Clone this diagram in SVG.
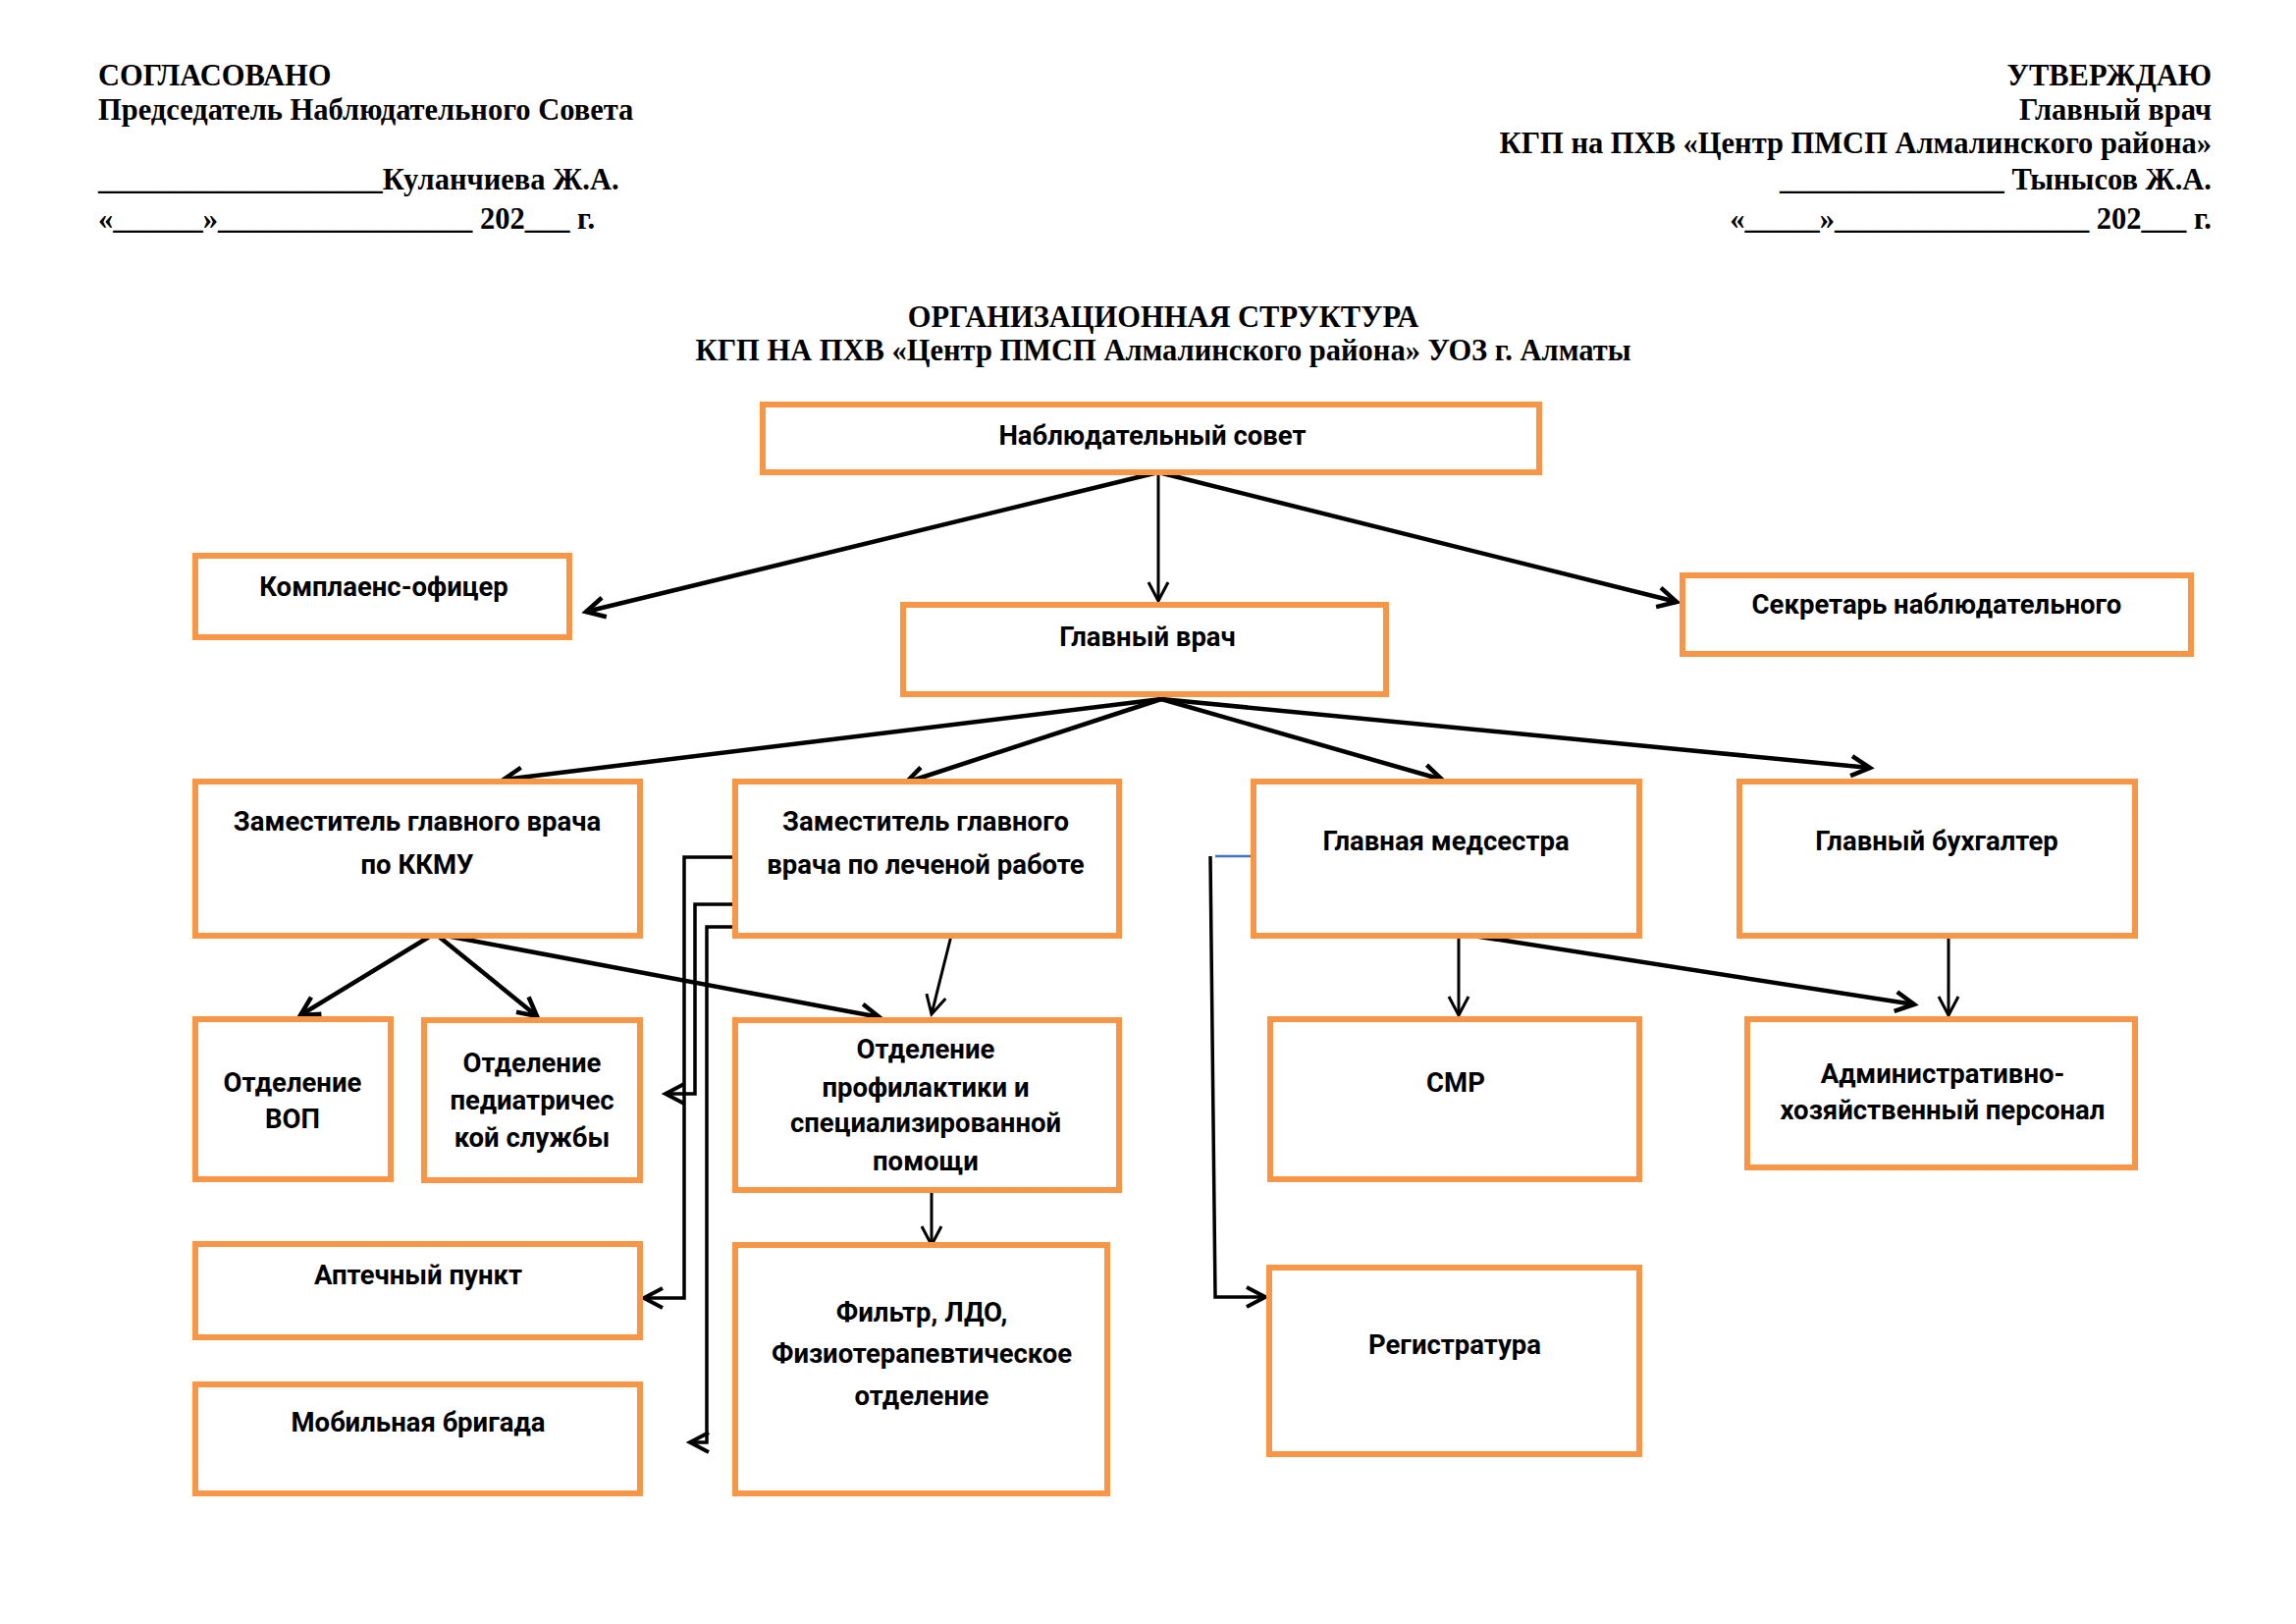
<svg xmlns="http://www.w3.org/2000/svg" width="2339" height="1654" viewBox="0 0 2339 1654">
<style>
.hd{font-family:"Liberation Serif","Times New Roman",serif;font-weight:bold;font-size:30.5px;fill:#000}
.box{fill:#fff;stroke:#F79646;stroke-width:6}
.t{font-family:Roboto,"Noto Sans","DejaVu Sans",sans-serif;font-weight:bold;font-size:27.5px;fill:#000;text-anchor:middle}
.thick{fill:none;stroke:#000;stroke-width:4.5;marker-end:url(#ahK)}
.thin{fill:none;stroke:#000;stroke-width:3;marker-end:url(#ahT)}
.mid{fill:none;stroke:#000;stroke-width:3.5;marker-end:url(#ahM)}
</style>
<defs>
<marker id="ahK" markerUnits="userSpaceOnUse" markerWidth="30" markerHeight="30" refX="22" refY="12" orient="auto" overflow="visible"><path d="M3,2 L22,12 L3,22" fill="none" stroke="#000" stroke-width="4.5"/></marker>
<marker id="ahT" markerUnits="userSpaceOnUse" markerWidth="30" markerHeight="30" refX="22" refY="12" orient="auto" overflow="visible"><path d="M3,2 L22,12 L3,22" fill="none" stroke="#000" stroke-width="3"/></marker>
<marker id="ahM" markerUnits="userSpaceOnUse" markerWidth="30" markerHeight="30" refX="22" refY="12" orient="auto" overflow="visible"><path d="M3,2 L22,12 L3,22" fill="none" stroke="#000" stroke-width="4"/></marker>
</defs>
<rect x="0" y="0" width="2339" height="1654" fill="#fff"/>
<g id="header-left">
<text class="hd" x="100" y="87">СОГЛАСОВАНО</text>
<text class="hd" x="100" y="122">Председатель Наблюдательного Совета</text>
<text class="hd" x="100" y="193">___________________Куланчиева Ж.А.</text>
<text class="hd" x="100" y="233">«______»_________________ 202___ г.</text>
</g>
<g id="header-right">
<text class="hd" x="2253" y="87" text-anchor="end">УТВЕРЖДАЮ</text>
<text class="hd" x="2253" y="122" text-anchor="end">Главный врач</text>
<text class="hd" x="2253" y="156" text-anchor="end">КГП на ПХВ «Центр ПМСП Алмалинского района»</text>
<text class="hd" x="2253" y="193" text-anchor="end">_______________ Тынысов Ж.А.</text>
<text class="hd" x="2253" y="233" text-anchor="end">«_____»_________________ 202___ г.</text>
</g>
<g id="title">
<text class="hd" x="1185" y="333" text-anchor="middle">ОРГАНИЗАЦИОННАЯ СТРУКТУРА</text>
<text class="hd" x="1185" y="367" text-anchor="middle">КГП НА ПХВ «Центр ПМСП Алмалинского района» УОЗ г. Алматы</text>
</g>
<g id="connectors">
<path class="thick" d="M1180,481 L597,623"/>
<path class="thick" d="M1180,481 L1708,613"/>
<path class="thin" d="M1180,481 L1180,612"/>
<path class="thick" d="M1183,712 L513,794"/>
<path class="thick" d="M1183,712 L923,797"/>
<path class="thick" d="M1183,712 L1469,794"/>
<path class="thick" d="M1183,712 L1905,782"/>
<path class="thick" d="M439,953 L306,1034"/>
<path class="thick" d="M446,953 L547,1035"/>
<path class="thick" d="M454,953 L896,1036"/>
<path class="thin" d="M969,953 L949,1033"/>
<path class="thin" d="M949,1203 L949,1268"/>
<path class="thin" d="M1486,953 L1486,1034"/>
<path class="thick" d="M1501,953 L1950,1023"/>
<path class="thin" d="M1985,953 L1985,1034"/>
<path class="mid" d="M746,873 H697 V1322 H656"/>
<path class="mid" d="M746,921 H708 V1114 H678"/>
<path class="mid" d="M746,944 H720 V1469 H703"/>
<path d="M1238,872 H1275" fill="none" stroke="#4472C4" stroke-width="2.5"/>
<path class="mid" d="M1233,872 L1238,1321 H1289"/>
</g>
<g id="n-council"><rect class="box" x="777" y="412" width="791" height="69"/><text class="t" x="1174" y="453">Наблюдательный совет</text></g>
<g id="n-compliance"><rect class="box" x="199" y="566" width="381" height="83"/><text class="t" x="391" y="607">Комплаенс-офицер</text></g>
<g id="n-chief"><rect class="box" x="920" y="616" width="492" height="91"/><text class="t" x="1169" y="658">Главный врач</text></g>
<g id="n-secretary"><rect class="box" x="1714" y="586" width="518" height="80"/><text class="t" x="1973" y="625">Секретарь наблюдательного</text></g>
<g id="n-kkmu"><rect class="box" x="199" y="796" width="453" height="157"/><text class="t" x="425" y="846">Заместитель главного врача</text><text class="t" x="425" y="890">по ККМУ</text></g>
<g id="n-med"><rect class="box" x="749" y="796" width="391" height="157"/><text class="t" x="943" y="846">Заместитель главного</text><text class="t" x="943" y="890">врача по леченой работе</text></g>
<g id="n-nurse"><rect class="box" x="1277" y="796" width="393" height="157"/><text class="t" x="1473" y="866">Главная медсестра</text></g>
<g id="n-accountant"><rect class="box" x="1772" y="796" width="403" height="157"/><text class="t" x="1973" y="866">Главный бухгалтер</text></g>
<g id="n-vop"><rect class="box" x="199" y="1038" width="199" height="163"/><text class="t" x="298" y="1112">Отделение</text><text class="t" x="298" y="1149">ВОП</text></g>
<g id="n-ped"><rect class="box" x="432" y="1039" width="220" height="163"/><text class="t" x="542" y="1092">Отделение</text><text class="t" x="542" y="1130">педиатричес</text><text class="t" x="542" y="1168">кой службы</text></g>
<g id="n-prof"><rect class="box" x="749" y="1039" width="391" height="173"/><text class="t" x="943" y="1078">Отделение</text><text class="t" x="943" y="1117">профилактики и</text><text class="t" x="943" y="1153">специализированной</text><text class="t" x="943" y="1192">помощи</text></g>
<g id="n-smr"><rect class="box" x="1294" y="1038" width="376" height="163"/><text class="t" x="1483" y="1112">СМР</text></g>
<g id="n-admin"><rect class="box" x="1780" y="1038" width="395" height="151"/><text class="t" x="1979" y="1103">Административно-</text><text class="t" x="1979" y="1140">хозяйственный персонал</text></g>
<g id="n-pharmacy"><rect class="box" x="199" y="1267" width="453" height="95"/><text class="t" x="426" y="1308">Аптечный пункт</text></g>
<g id="n-mobile"><rect class="box" x="199" y="1410" width="453" height="111"/><text class="t" x="426" y="1458">Мобильная бригада</text></g>
<g id="n-filter"><rect class="box" x="749" y="1268" width="379" height="253"/><text class="t" x="939" y="1346">Фильтр, ЛДО,</text><text class="t" x="939" y="1388">Физиотерапевтическое</text><text class="t" x="939" y="1431">отделение</text></g>
<g id="n-registry"><rect class="box" x="1293" y="1291" width="377" height="190"/><text class="t" x="1482" y="1379">Регистратура</text></g>
</svg>
